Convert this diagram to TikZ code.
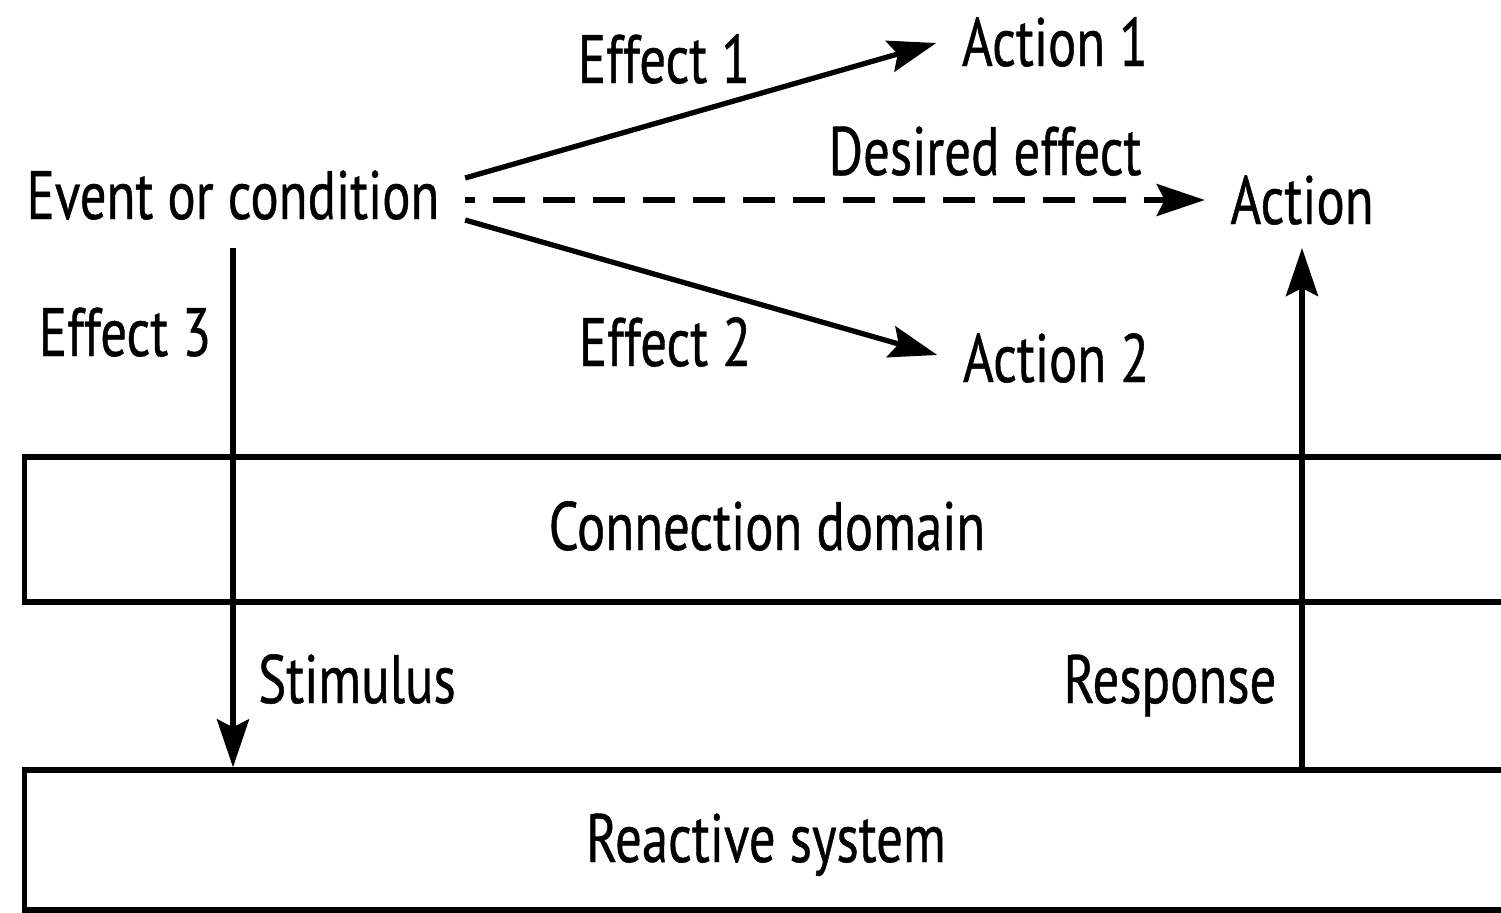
\documentclass[tikz,border=0pt]{standalone}
\usepackage{fontspec}
\setmainfont{PT Sans}[FakeStretch=0.77,FakeBold=0.6]
\usetikzlibrary{arrows.meta}
\begin{document}
\begin{tikzpicture}[x=0.01cm,y=-0.01cm,
  lbl/.style={inner sep=0pt, anchor=base, font=\fontsize{19.5}{22}\selectfont},
  arr/.style={line width=1.5pt, -{Stealth[length=0.48cm,width=0.32cm,inset=0.08cm]}},
  dasharr/.style={arr, dash pattern=on 0.32cm off 0.18cm, dash phase=0.22cm},
  band/.style={draw, line width=1.5pt, inner sep=0pt, minimum width=15.05cm}]
\useasboundingbox (0,0) rectangle (1501,912);

% the two horizontal domains
\node[band, minimum height=1.45cm] (conn) at (777.5,529.5) {};
\node[band, minimum height=1.40cm] (rs) at (777.5,840) {};

% labels and domain names
\node[lbl] (ev)  at (233,219) {Event or condition};
\node[lbl] (e1)  at (664,83)  {Effect 1};
\node[lbl] (a1)  at (1055,66) {Action 1};
\node[lbl] (de)  at (985,175) {Desired effect};
\node[lbl] (act) at (1302,224) {Action};
\node[lbl] (e3)  at (125,356) {Effect 3};
\node[lbl] (e2)  at (665,366) {Effect 2};
\node[lbl] (a2)  at (1056,382) {Action 2};
\node[lbl] (cd)  at (767,550) {Connection domain};
\node[lbl] (st)  at (357,703) {Stimulus};
\node[lbl] (rp)  at (1170,703) {Response};
\node[lbl] (rsl) at (766,862) {Reactive system};

% effects of the event
\draw[arr] ([shift={(25,-41)}]ev.base east) -- ([shift={(-25,-23)}]a1.base west);
\draw[dasharr] ([shift={(25,-19)}]ev.base east) -- ([shift={(-25,-24)}]act.base west);
\draw[arr] ([shift={(25,1)}]ev.base east) -- ([shift={(-25,-27)}]a2.base west);

% stimulus and response through the connection domain
\draw[arr] ([yshift=-0.29cm]ev.base) -- (ev.base |- rs.north);
\draw[arr] (rs.north -| act.base) -- ([yshift=-0.24cm]act.base);
\end{tikzpicture}
\end{document}
